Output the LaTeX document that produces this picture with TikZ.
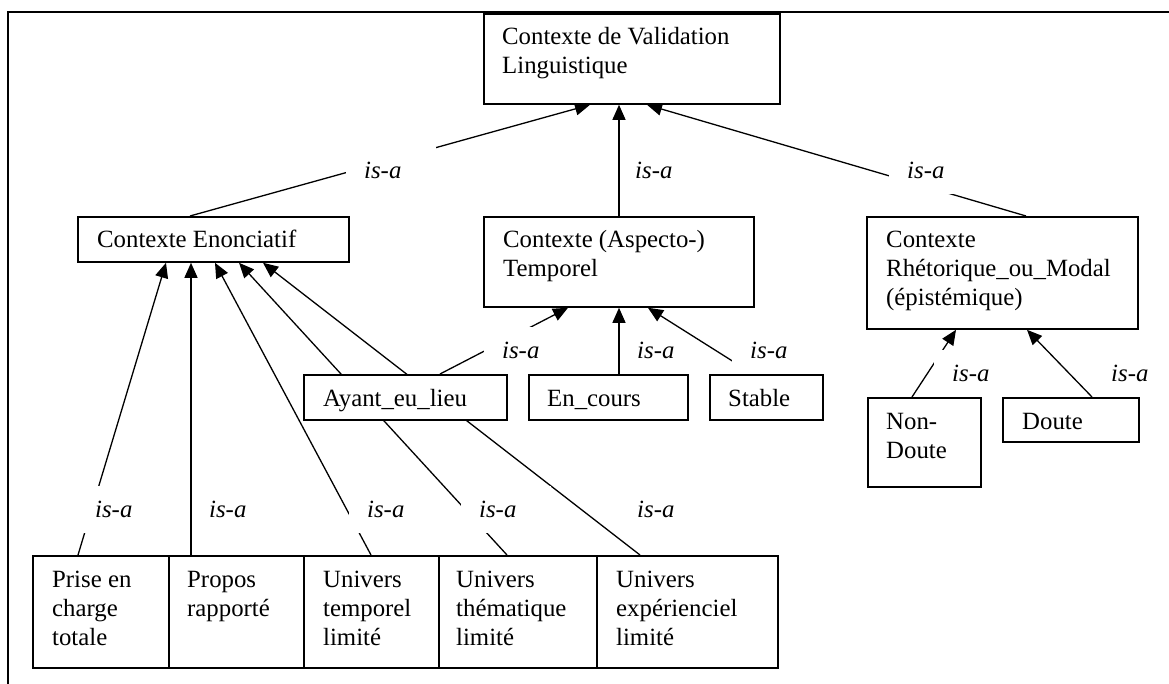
\documentclass[tikz,border=0pt]{standalone}
\usepackage{fontspec}
\setmainfont{Liberation Serif}
\usetikzlibrary{arrows.meta,calc,backgrounds}
\newcommand{\mlines}[1]{\begin{tabular}[t]{@{}l@{}}#1\end{tabular}}
\begin{document}
\begin{tikzpicture}[x=1pt,y=-1pt,
  box/.style={draw, fill=white, line width=1.8pt, inner sep=0pt, anchor=north west},
  txt/.style={anchor=base west, inner sep=0pt, font=\fontsize{24.8}{29}\selectfont},
  lbl/.style={fill=white, inner xsep=18pt, inner ysep=0pt, text width=54pt, align=left, minimum height=47pt, anchor=north west, font=\fontsize{24.8}{29}\selectfont\itshape},
  lbln/.style={lbl, fill=none},
  isa/.style={line width=1.3pt, -{Triangle[length=15pt,width=13pt]}},
  frameline/.style={line width=1.5pt}]
\useasboundingbox (0,0) rectangle (1169,684);
\draw[frameline] (8,684) -- (8,12) -- (1169,12);

% boxes
\node[box, minimum width=296pt, minimum height=90pt] (top) at (483,13) {};
\node[txt] (top-t) at ($(top.north west)+(19,32)$) {\mlines{Contexte de Validation\\Linguistique}};

\node[box, minimum width=271pt, minimum height=45pt] (enon) at (77,216) {};
\node[txt] (enon-t) at ($(enon.north west)+(20,32)$) {Contexte Enonciatif};

\node[box, minimum width=270pt, minimum height=90pt] (asp) at (483,216) {};
\node[txt] (asp-t) at ($(asp.north west)+(20,32)$) {\mlines{Contexte (Aspecto-)\\Temporel}};

\node[box, minimum width=271pt, minimum height=112pt] (rhet) at (866,216) {};
\node[txt] (rhet-t) at ($(rhet.north west)+(20,32)$) {\mlines{Contexte\\Rhétorique\_ou\_Modal\\(épistémique)}};

\node[box, minimum width=203pt, minimum height=45pt] (ayant) at (303,374) {};
\node[txt] (ayant-t) at ($(ayant.north west)+(20,32)$) {Ayant\_eu\_lieu};

\node[box, minimum width=159pt, minimum height=45pt] (enc) at (528,374) {};
\node[txt] (enc-t) at ($(enc.north west)+(19,32)$) {En\_cours};

\node[box, minimum width=113pt, minimum height=45pt] (stab) at (709,374) {};
\node[txt] (stab-t) at ($(stab.north west)+(19,32)$) {Stable};

\node[box, minimum width=113pt, minimum height=89pt] (nond) at (867,397) {};
\node[txt] (nond-t) at ($(nond.north west)+(19,32)$) {\mlines{Non-\\Doute}};

\node[box, minimum width=136pt, minimum height=44pt] (dout) at (1002,397) {};
\node[txt] (dout-t) at ($(dout.north west)+(20,32)$) {Doute};

\node[box, minimum width=136pt, minimum height=112pt] (prise) at (32,555) {};
\node[txt] (prise-t) at ($(prise.north west)+(20,32)$) {\mlines{Prise en\\charge\\totale}};

\node[box, minimum width=135pt, minimum height=112pt] (propos) at (168,555) {};
\node[txt] (propos-t) at ($(propos.north west)+(19,32)$) {\mlines{Propos\\rapporté}};

\node[box, minimum width=135pt, minimum height=112pt] (utemp) at (303,555) {};
\node[txt] (utemp-t) at ($(utemp.north west)+(20,32)$) {\mlines{Univers\\temporel\\limité}};

\node[box, minimum width=158pt, minimum height=112pt] (uthem) at (438,555) {};
\node[txt] (uthem-t) at ($(uthem.north west)+(18,32)$) {\mlines{Univers\\thématique\\limité}};

\node[box, minimum width=181pt, minimum height=112pt] (uexp) at (596,555) {};
\node[txt] (uexp-t) at ($(uexp.north west)+(20,32)$) {\mlines{Univers\\expérienciel\\limité}};

% connectors
\begin{scope}[on background layer]
\draw[isa] ($(enon.north west)+(113,0)$) -- ($(top.south west)+(107,0)$);
\draw[isa] ($(asp.north west)+(136,0)$) -- ($(top.south west)+(136,0)$);
\draw[isa] ($(rhet.north west)+(160,0)$) -- ($(top.south west)+(164,0)$);
\draw[isa] ($(prise.north west)+(46,0)$) -- ($(enon.south west)+(89,0)$);
\draw[isa] ($(propos.north west)+(23,0)$) -- ($(enon.south west)+(114,0)$);
\draw[isa] ($(utemp.north west)+(68,0)$) -- ($(enon.south west)+(138,0)$);
\draw[isa] ($(uthem.north west)+(69,0)$) -- ($(enon.south west)+(162,0)$);
\draw[isa] ($(uexp.north west)+(44,0)$) -- ($(enon.south west)+(186,0)$);
\draw[isa] ($(ayant.north west)+(137,0)$) -- ($(asp.south west)+(85,0)$);
\draw[isa] ($(enc.north west)+(91,0)$) -- ($(asp.south west)+(136,0)$);
\draw[isa] ($(stab.north west)+(44,0)$) -- ($(asp.south west)+(165,0)$);
\draw[isa] ($(nond.north west)+(45,0)$) -- ($(rhet.south west)+(90,0)$);
\draw[isa] ($(dout.north west)+(90,0)$) -- ($(rhet.south west)+(161,0)$);
\end{scope}

% labels
\node[lbl] (l1) at (346,147) {is-a};
\node[lbln] (l2) at (617,147) {is-a};
\node[lbl] (l3) at (889,147) {is-a};
\node[lbl] (l4) at (77,486) {is-a};
\node[lbln] (l5) at (191,486) {is-a};
\node[lbl] (l6) at (349,486) {is-a};
\node[lbl] (l7) at (461,486) {is-a};
\node[lbl] (l8) at (619,486) {is-a};
\node[lbl] (l9) at (484,327) {is-a};
\node[lbln] (l10) at (619,327) {is-a};
\node[lbl] (l11) at (732,327) {is-a};
\node[lbl] (l12) at (934,350) {is-a};
\node[lbl] (l13) at (1093,350) {is-a};
\end{tikzpicture}
\end{document}
